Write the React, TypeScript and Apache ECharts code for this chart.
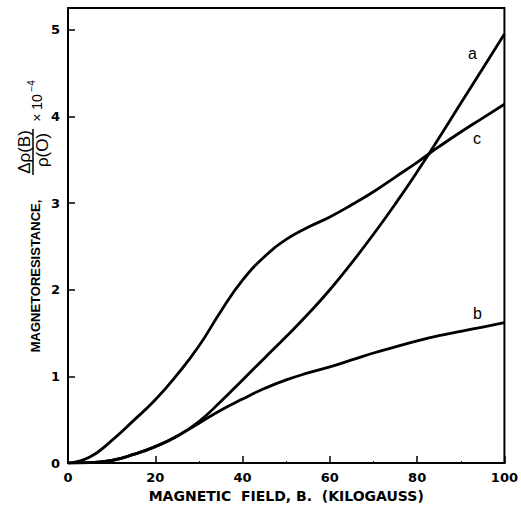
import React, { useEffect, useRef } from "react";
import * as echarts from "echarts";

const fieldKG = [0, 5, 10, 15, 20, 25, 30, 35, 40, 45, 50, 55, 60, 65, 70, 75, 80, 85, 90, 95, 100];
const curveA = [0, 0.005, 0.03, 0.1, 0.19, 0.31, 0.48, 0.71, 0.96, 1.21, 1.46, 1.72, 2.0, 2.31, 2.64, 2.99, 3.36, 3.75, 4.15, 4.55, 4.95];
const curveB = [0, 0.005, 0.03, 0.1, 0.19, 0.31, 0.46, 0.61, 0.74, 0.86, 0.96, 1.04, 1.11, 1.19, 1.27, 1.34, 1.41, 1.47, 1.52, 1.57, 1.62];
const curveC = [0, 0.07, 0.26, 0.49, 0.73, 1.02, 1.35, 1.75, 2.11, 2.38, 2.58, 2.72, 2.84, 2.98, 3.13, 3.3, 3.47, 3.65, 3.82, 3.98, 4.14];
const curveNames = ["a", "b", "c"];
const labelPos: [number, number][] = [[92.7, 4.73], [93.8, 1.73], [93.7, 3.75]];
const xTicks = [0, 20, 40, 60, 80, 100];
const yTicks = [0, 1, 2, 3, 4, 5];

const FONT = "'Liberation Sans', Arial, sans-serif";
const WIDE = "'DejaVu Sans', Verdana, sans-serif";

export default function App() {
  const ref = useRef<HTMLDivElement>(null);
  useEffect(() => {
    if (!ref.current) return;
    const chart = echarts.init(ref.current, null, { renderer: "svg" });
    const all = [curveA, curveB, curveC];
    const series = all.map((vals, i) => ({
      type: "line",
      name: curveNames[i],
      data: fieldKG.map((x, j) => [x, vals[j]]),
      smooth: 0.5,
      showSymbol: false,
      symbol: "none",
      lineStyle: { color: "#000", width: 2.8 },
      markPoint: {
        symbol: "circle",
        symbolSize: 0,
        data: [{ coord: labelPos[i], value: curveNames[i] }],
        label: {
          show: true,
          formatter: curveNames[i],
          color: "#000",
          fontSize: 16,
          fontFamily: FONT,
          position: "inside",
        },
      },
    }));
    const rotText = (text: string, x: number, y: number, fontSize: number, fontWeight = "normal") => ({
      type: "text",
      x,
      y,
      rotation: Math.PI / 2,
      style: {
        text,
        fill: "#000",
        fontSize,
        fontWeight,
        fontFamily: FONT,
        align: "center",
        verticalAlign: "middle",
      },
    });
    chart.setOption({
      animation: false,
      backgroundColor: "#fff",
      grid: {
        left: 68,
        right: 13,
        top: 8,
        bottom: 44,
        show: true,
        borderColor: "#000",
        borderWidth: 2,
      },
      xAxis: {
        type: "value",
        min: 0,
        max: 100,
        interval: 20,
        axisLine: { show: true, lineStyle: { color: "#000", width: 2 } },
        axisTick: { show: true, inside: true, length: 7, lineStyle: { color: "#000", width: 1.5 } },
        minorTick: { show: true, splitNumber: 2, length: 2, lineStyle: { color: "#000", width: 1 } },
        splitLine: { show: false },
        axisLabel: {
          color: "#000",
          fontSize: 13,
          fontWeight: "bold",
          fontFamily: WIDE,
          margin: 8,
          formatter: (v: number) => (xTicks.includes(v) ? String(v) : ""),
        },
        name: "MAGNETIC  FIELD, B.  (KILOGAUSS)",
        nameLocation: "middle",
        nameGap: 22,
        nameTextStyle: { color: "#000", fontSize: 14, fontWeight: "bold", fontFamily: WIDE },
      },
      yAxis: {
        type: "value",
        min: 0,
        max: 5.25,
        interval: 1,
        axisLine: { show: true, lineStyle: { color: "#000", width: 2 } },
        axisTick: { show: true, inside: true, length: 7, lineStyle: { color: "#000", width: 1.5 } },
        splitLine: { show: false },
        axisLabel: {
          color: "#000",
          fontSize: 13,
          fontWeight: "bold",
          fontFamily: WIDE,
          margin: 8,
          formatter: (v: number) => (yTicks.includes(v) ? String(v) : ""),
        },
      },
      graphic: [
        rotText("MAGNETORESISTANCE,", 35, 276, 13, "bold"),
        rotText("Δρ(B)", 24, 152, 17),
        {
          type: "line",
          shape: { x1: 33, y1: 129, x2: 33, y2: 175 },
          style: { stroke: "#000", lineWidth: 1.5 },
        },
        rotText("ρ(O)", 42, 150, 17),
        rotText("× 10", 37, 108, 14),
        rotText("−4", 31, 86, 10),
      ],
      series,
    });
    return () => chart.dispose();
  }, []);
  return (
    <div
      ref={ref}
      style={{ position: "fixed", left: 0, top: 0, width: 521, height: 508, background: "#fff" }}
    />
  );
}
